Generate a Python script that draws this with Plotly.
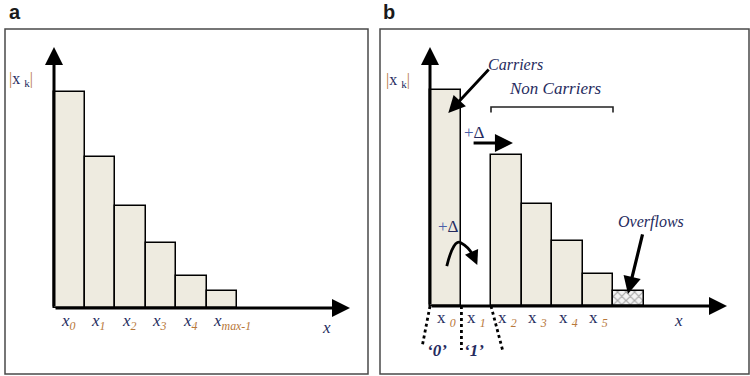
import plotly.graph_objects as go

# Panel a: occupancy of each bin before shifting
bins_a = [0, 1, 2, 3, 4, 5]
counts_a = [100, 70, 47, 30, 15, 8]
labels_a = ["0", "1", "2", "3", "4", "max-1"]

# Panel b: after shifting, bin x1 is empty and the tail spills into an overflow bin
bins_b = [0, 1, 2, 3, 4, 5]
counts_b = [100, None, 70, 47, 30, 15]
labels_b = ["0", "1", "2", "3", "4", "5"]
overflow_bin = [6]
overflow_count = [7]

W, H = 750, 376
FILL = "#eeebe0"
INK = "#262b5e"
SUBC = "#b8783a"
SERIF = "Liberation Serif"

fig = go.Figure()

bar_line = dict(color="black", width=1.5)
fig.add_trace(go.Bar(x=[b + 0.5 for b in bins_a], y=counts_a, width=1,
                     marker=dict(color=FILL, line=bar_line),
                     xaxis="x", yaxis="y", showlegend=False, hoverinfo="skip"))
fig.add_trace(go.Bar(x=[b + 0.5 for b in bins_b], y=counts_b, width=1,
                     marker=dict(color=FILL, line=bar_line),
                     xaxis="x2", yaxis="y2", showlegend=False, hoverinfo="skip"))
fig.add_trace(go.Bar(x=[b + 0.5 for b in overflow_bin], y=overflow_count, width=1,
                     marker=dict(color="#f4f4f4", line=bar_line,
                                 pattern=dict(shape="x", fgcolor="#555555",
                                              bgcolor="#f4f4f4", size=6, solidity=0.35)),
                     xaxis="x2", yaxis="y2", showlegend=False, hoverinfo="skip"))

# Each panel's axes span its whole frame; the origin sits where the arrows meet.
BW = 30.5      # pixels per bin
PU = 2.16      # pixels per count unit
frame_px = dict(left_a=5, right_a=368, left_b=380, right_b=749, top=29, bottom=374)
origin_a = (54, 308)
origin_b = (430, 306)


def axis_pair(origin, left, right):
    ox, oy = origin
    xr = [(left - ox) / BW, (right - ox) / BW]
    yr = [(oy - frame_px["bottom"]) / PU, (oy - frame_px["top"]) / PU]
    xd = [left / W, right / W]
    yd = [1 - frame_px["bottom"] / H, 1 - frame_px["top"] / H]
    return xr, yr, xd, yd


hidden = dict(showgrid=False, zeroline=False, showticklabels=False, ticks="",
              showline=False, fixedrange=True)
xr, yr, xd, yd = axis_pair(origin_a, frame_px["left_a"], frame_px["right_a"])
fig.update_layout(xaxis=dict(range=xr, domain=xd, anchor="y", **hidden),
                  yaxis=dict(range=yr, domain=yd, anchor="x", **hidden))
xr2, yr2, xd2, yd2 = axis_pair(origin_b, frame_px["left_b"], frame_px["right_b"])
fig.update_layout(xaxis2=dict(range=xr2, domain=xd2, anchor="y2", **hidden),
                  yaxis2=dict(range=yr2, domain=yd2, anchor="x2", **hidden))

shapes = []
annotations = []

# Panel frames
for xa, ya in (("x", "y"), ("x2", "y2")):
    shapes.append(dict(type="rect", xref=f"{xa} domain", yref=f"{ya} domain",
                       x0=0, x1=1, y0=0, y1=1, line=dict(color="#4a4a4a", width=1.5)))


def arrow(xa, ya, x0, y0, x1, y1, width=3, head=2, size=1.0):
    annotations.append(dict(xref=xa, yref=ya, axref=xa, ayref=ya,
                            x=x1, y=y1, ax=x0, ay=y0, text="", showarrow=True,
                            arrowhead=head, arrowwidth=width, arrowsize=size,
                            arrowcolor="black", standoff=0, startstandoff=0))


def text(xa, ya, x, y, s, size=14, color=INK, xanchor="center", family=SERIF):
    annotations.append(dict(xref=xa, yref=ya, x=x, y=y, text=s, showarrow=False,
                            xanchor=xanchor, yanchor="middle",
                            font=dict(family=family, size=size, color=color)))


# Coordinate axes drawn as arrows
arrow("x", "y", 0, 0, 0, (origin_a[1] - 47) / PU, head=2, size=1.2)
arrow("x", "y", 0, 0, (350 - origin_a[0]) / BW, 0, head=2, size=1.2)
arrow("x2", "y2", 0, 0, 0, (origin_b[1] - 47) / PU, head=2, size=1.2)
arrow("x2", "y2", 0, 0, (727 - origin_b[0]) / BW, 0, head=2, size=1.2)

bar_sym = f'<span style="color:{SUBC}">|</span>'
ylab = f"{bar_sym}x <sub>k</sub>{bar_sym}"
text("x", "y", -1.08, 105.6, ylab, size=16)
text("x2", "y2", -1.05, 104.6, ylab, size=16)

# Bin labels
for b, lab in zip(bins_a, labels_a):
    text("x", "y", b + 0.15, -6.3,
         f'<i>x</i><sub><i><span style="color:{SUBC}">{lab}</span></i></sub>',
         size=17, xanchor="left")
for b, lab in zip(bins_b, labels_b):
    text("x2", "y2", b + 0.15, -6.0,
         f'x <sub><i><span style="color:{SUBC}">{lab}</span></i></sub>',
         size=17, xanchor="left")
text("x", "y", 8.92, -8.8, "<i>x</i>", size=17)
text("x2", "y2", 8.16, -6.5, "<i>x</i>", size=17)

# Panel letters
for px, letter in ((7, "a"), (381, "b")):
    annotations.append(dict(xref="paper", yref="paper", x=px / W, y=1 - 12 / H,
                            text=f"<b>{letter}</b>", showarrow=False,
                            xanchor="left", yanchor="middle",
                            font=dict(family="Liberation Sans", size=20, color="#1a1a1a")))

# Panel b callouts
text("x2", "y2", 2.79, 111.6, "<i>Carriers</i>", size=16)
arrow("x2", "y2", 1.97, 110.2, 0.6, 89.4, width=2.8, head=2, size=1.2)

text("x2", "y2", 4.10, 100.8, "<i>Non Carriers</i>", size=17)
bracket_y = 92.1
shapes.append(dict(type="path", xref="x2", yref="y2",
                   path=f"M 2,{bracket_y - 2.5} L 2,{bracket_y} L 6,{bracket_y} L 6,{bracket_y - 2.5}",
                   line=dict(color="#222222", width=1.6)))

text("x2", "y2", 1.46, 80.3, '<span style="color:#4a5fa8">+</span>Δ', size=17)
arrow("x2", "y2", 1.38, 75.5, 2.72, 75.5, width=3, head=2, size=1.2)

text("x2", "y2", 0.62, 36.6, '<span style="color:#4a5fa8">+</span>Δ', size=17)
shapes.append(dict(type="path", xref="x2", yref="y2",
                   path="M 0.55,18.5 Q 0.78,31.5 1.02,29.2 Q 1.25,27.5 1.40,23.8",
                   line=dict(color="black", width=2.8)))
arrow("x2", "y2", 1.38, 24.5, 1.55, 19.0, width=2.6, head=2, size=1.1)

text("x2", "y2", 7.25, 39.0, "<i>Overflows</i>", size=16)
arrow("x2", "y2", 6.98, 33.8, 6.49, 5.5, width=3.2, head=2, size=1.1)

# Bit boundaries under the axis
dash = dict(color="black", width=2.8, dash="3px,3px")
shapes.append(dict(type="line", xref="x2", yref="y2", x0=0, y0=0, x1=-0.26, y1=-19, line=dash))
shapes.append(dict(type="line", xref="x2", yref="y2", x0=1.03, y0=0, x1=1.03, y1=-20.4, line=dash))
shapes.append(dict(type="line", xref="x2", yref="y2", x0=2.0, y0=0, x1=2.38, y1=-20.4, line=dash))
text("x2", "y2", 0.24, -20.6, "<b><i>‘0’</i></b>", size=17)
text("x2", "y2", 1.45, -20.6, "<b><i>‘1’</i></b>", size=17)

fig.update_layout(width=W, height=H, margin=dict(l=0, r=0, t=0, b=0),
                  paper_bgcolor="white", plot_bgcolor="white",
                  barmode="overlay", bargap=0, showlegend=False,
                  shapes=shapes, annotations=annotations)

fig.write_html("out.html", include_plotlyjs=True, config=dict(displayModeBar=False))
